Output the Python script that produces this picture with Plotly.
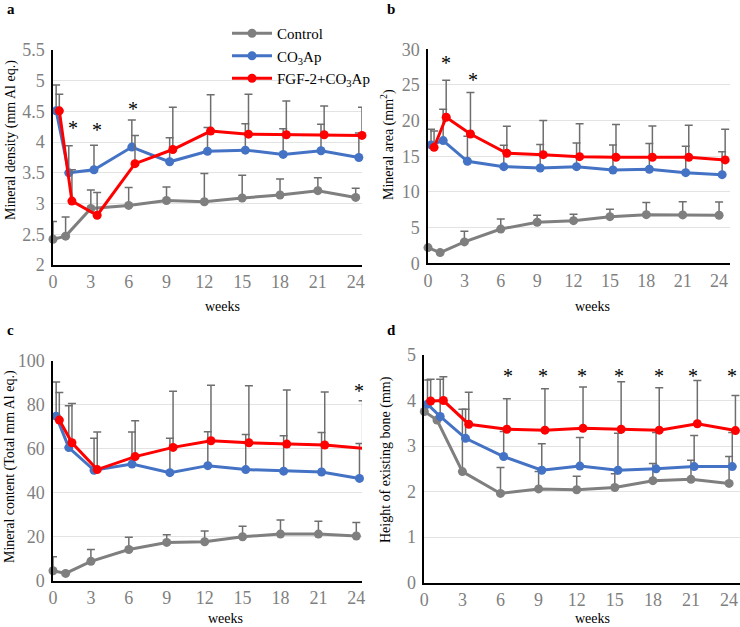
import plotly.graph_objects as go

# ---------------- data ----------------
weeks = [0, 1, 3, 6, 9, 12, 15, 18, 21, 24]
series_names = ["Control", "CO<sub>3</sub>Ap", "FGF-2+CO<sub>3</sub>Ap"]

# (a) Mineral density (mm Al eq.)
a_control = [2.42, 2.47, 2.92, 2.97, 3.05, 3.03, 3.09, 3.14, 3.21, 3.10]
a_control_sd = [0.29, 0.31, 0.30, 0.29, 0.22, 0.46, 0.37, 0.26, 0.21, 0.15]
a_co3ap = [4.51, 3.50, 3.55, 3.92, 3.68, 3.85, 3.87, 3.80, 3.86, 3.75]
a_co3ap_sd = [0.42, 0.44, 0.40, 0.44, 0.39, 0.39, 0.43, 0.42, 0.43, 0.40]
a_fgf = [4.51, 3.04, 2.81, 3.65, 3.88, 4.18, 4.13, 4.12, 4.12, 4.11]
a_fgf_sd = [0.27, 0.51, 0.37, 0.46, 0.69, 0.59, 0.65, 0.55, 0.47, 0.46]
a_star_x = [1.61, 3.51, 6.31]
a_star_y = [4.30, 4.27, 4.60]
a_yticks = [2, 2.5, 3, 3.5, 4, 4.5, 5, 5.5]
a_yticklabels = ["2", "2.5", "3", "3.5", "4", "4.5", "5", "5.5"]

# (b) Mineral area (mm2)
b_control = [2.2, 1.5, 3.0, 4.8, 5.75, 5.98, 6.54, 6.82, 6.78, 6.73]
b_control_sd = [0.0, 0.0, 1.5, 1.4, 1.0, 0.9, 1.05, 1.7, 1.85, 1.85]
b_co3ap = [16.6, 17.2, 14.3, 13.55, 13.36, 13.55, 13.08, 13.18, 12.71, 12.43]
b_co3ap_sd = [2.2, 4.4, 3.5, 3.0, 3.3, 3.3, 3.5, 3.6, 3.7, 3.2]
b_fgf = [16.26, 20.47, 18.13, 15.42, 15.23, 14.95, 14.86, 14.86, 14.86, 14.49]
b_fgf_sd = [2.3, 5.2, 5.8, 3.8, 4.8, 4.6, 4.6, 4.4, 4.5, 4.3]
b_star_x = [1.48, 3.68]
b_star_y = [28.6, 26.3]
b_yticks = [0, 5, 10, 15, 20, 25, 30]
b_yticklabels = ["0", "5", "10", "15", "20", "25", "30"]

# (c) Mineral content (Total mm Al eq.)
c_control = [4.5, 3.3, 8.8, 14.2, 17.4, 17.7, 20.0, 21.2, 21.2, 20.3]
c_control_sd = [6.4, 0.0, 5.4, 5.6, 3.5, 4.9, 4.8, 6.4, 5.8, 6.1]
c_co3ap = [74.8, 60.5, 50.2, 53.0, 49.1, 52.3, 50.5, 49.8, 49.4, 46.5]
c_co3ap_sd = [15.5, 19.0, 14.6, 14.6, 15.6, 15.4, 15.9, 16.1, 18.0, 15.9]
c_fgf = [73.0, 62.7, 50.5, 56.4, 60.6, 63.6, 62.7, 62.1, 61.7, 60.2]
c_fgf_sd = [12.6, 17.8, 17.1, 16.3, 25.5, 25.2, 25.9, 24.6, 24.1, 21.6]
c_star_x = [24.18]
c_star_y = [88.2]
c_yticks = [0, 20, 40, 60, 80, 100]
c_yticklabels = ["0", "20", "40", "60", "80", "100"]

# (d) Height of existing bone (mm)
d_control = [3.76, 3.57, 2.44, 1.96, 2.06, 2.04, 2.09, 2.24, 2.27, 2.18]
d_control_sd = [0.0, 0.0, 1.37, 0.57, 0.38, 0.30, 0.30, 0.38, 0.42, 0.59]
d_co3ap = [3.92, 3.65, 3.17, 2.77, 2.47, 2.56, 2.47, 2.50, 2.55, 2.55]
d_co3ap_sd = [0.53, 0.82, 0.64, 0.55, 0.58, 0.63, 0.81, 0.80, 0.68, 0.75]
d_fgf = [3.99, 4.00, 3.48, 3.37, 3.35, 3.39, 3.37, 3.35, 3.49, 3.34]
d_fgf_sd = [0.48, 0.52, 0.70, 0.67, 0.91, 0.91, 1.04, 0.93, 0.95, 0.77]
d_star_x = [6.56, 9.37, 12.39, 15.33, 18.45, 21.18, 24.2]
d_star_y = [4.63, 4.63, 4.63, 4.63, 4.63, 4.63, 4.63]
d_yticks = [0, 1, 2, 3, 4, 5]
d_yticklabels = ["0", "1", "2", "3", "4", "5"]

xticks = [0, 3, 6, 9, 12, 15, 18, 21, 24]
xticklabels = ["0", "3", "6", "9", "12", "15", "18", "21", "24"]

# ---------------- style ----------------
COLORS = ["#7f7f7f", "#4472c4", "#ff0000"]
DODGE = [0.0, 0.25, 0.5]
ERR_COLOR = "#6e6e6e"
SERIF = "Liberation Serif"
W, H = 740, 627

panels = [
    dict(name="a", vals=[a_control, a_co3ap, a_fgf], sds=[a_control_sd, a_co3ap_sd, a_fgf_sd],
         sx=a_star_x, sy=a_star_y, yt=a_yticks, ytl=a_yticklabels, yr=[2, 5.5],
         px=(53, 362), py=(50, 265), xr=[0, 24.5],
         title="Mineral density (mm Al eq.)", title_x=11, title_y=140,
         lab=(5, 9), weeks=(222, 306)),
    dict(name="b", vals=[b_control, b_co3ap, b_fgf], sds=[b_control_sd, b_co3ap_sd, b_fgf_sd],
         sx=b_star_x, sy=b_star_y, yt=b_yticks, ytl=b_yticklabels, yr=[0, 30],
         px=(428, 730), py=(49.3, 263.3), xr=[0, 24.9],
         title="Mineral area (mm<sup>2</sup>)", title_x=387, title_y=145,
         lab=(385, 9), weeks=(592, 306)),
    dict(name="c", vals=[c_control, c_co3ap, c_fgf], sds=[c_control_sd, c_co3ap_sd, c_fgf_sd],
         sx=c_star_x, sy=c_star_y, yt=c_yticks, ytl=c_yticklabels, yr=[0, 100],
         px=(53, 362), py=(360.7, 580.7), xr=[0, 24.45],
         title="Mineral content (Total mm Al eq.)", title_x=10, title_y=467,
         lab=(5, 330), weeks=(225, 618)),
    dict(name="d", vals=[d_control, d_co3ap, d_fgf], sds=[d_control_sd, d_co3ap_sd, d_fgf_sd],
         sx=d_star_x, sy=d_star_y, yt=d_yticks, ytl=d_yticklabels, yr=[0, 5],
         px=(424.3, 740), py=(355, 582.7), xr=[0, 24.86],
         title="Height of existing bone (mm)", title_x=386, title_y=460,
         lab=(385, 330), weeks=(592, 618)),
]

fig = go.Figure()
annotations = []
for i, p in enumerate(panels):
    ax = "" if i == 0 else str(i + 1)
    xa, ya = "x" + ax, "y" + ax
    for s in range(3):
        fig.add_trace(go.Scatter(
            x=[w + DODGE[s] for w in weeks], y=p["vals"][s],
            xaxis=xa, yaxis=ya, mode="lines+markers",
            name=series_names[s], legendgroup=series_names[s], showlegend=(i == 0),
            line=dict(color=COLORS[s], width=3),
            marker=dict(color=COLORS[s], size=9),
            error_y=dict(type="data", symmetric=False, array=p["sds"][s],
                         arrayminus=[0] * len(weeks), color=ERR_COLOR, thickness=1.5, width=4),
            cliponaxis=False,
        ))
    for sx, sy in zip(p["sx"], p["sy"]):
        annotations.append(dict(x=sx, y=sy, xref=xa, yref=ya, text="*", showarrow=False,
                                font=dict(family=SERIF, size=20, color="black"), yshift=-4))
    layout_x = dict(domain=[p["px"][0] / W, p["px"][1] / W], range=p["xr"],
                    tickvals=xticks, ticktext=xticklabels, showgrid=False, zeroline=False,
                    showline=True, linecolor="black", linewidth=1.5,
                    ticks="", tickfont=dict(family=SERIF, size=18, color="#7f7f7f"),
                    anchor=ya, automargin=False)
    layout_y = dict(domain=[1 - p["py"][1] / H, 1 - p["py"][0] / H], range=p["yr"],
                    tickvals=p["yt"], ticktext=p["ytl"], showgrid=True, gridcolor="#e3e3e3",
                    gridwidth=1, zeroline=False, showline=True, linecolor="black", linewidth=1.5,
                    ticks="outside", ticklen=3, tickcolor="rgba(0,0,0,0)",
                    tickfont=dict(family=SERIF, size=18, color="#7f7f7f"),
                    anchor=xa, automargin=False)
    fig.update_layout({"xaxis" + ax: layout_x, "yaxis" + ax: layout_y})
    annotations.append(dict(x=p["title_x"] / W, y=1 - p["title_y"] / H, xref="paper", yref="paper",
                            xanchor="center", yanchor="middle",
                            text=p["title"], textangle=-90, showarrow=False,
                            font=dict(family=SERIF, size=14, color="black")))
    annotations.append(dict(x=p["lab"][0] / W, y=1 - p["lab"][1] / H, xref="paper", yref="paper",
                            text="<b>%s</b>" % p["name"], showarrow=False, xanchor="left",
                            yanchor="middle",
                            font=dict(family=SERIF, size=15, color="black")))
    annotations.append(dict(x=p["weeks"][0] / W, y=1 - p["weeks"][1] / H, xref="paper", yref="paper",
                            xanchor="center", yanchor="middle",
                            text="weeks", showarrow=False,
                            font=dict(family=SERIF, size=14, color="black")))

fig.update_layout(
    width=W, height=H, margin=dict(l=0, r=0, t=0, b=0, pad=0, autoexpand=False),
    paper_bgcolor="white", plot_bgcolor="white",
    font=dict(family=SERIF),
    annotations=annotations,
    legend=dict(x=227 / W, y=1 - 17 / H, xanchor="left", yanchor="top",
                bgcolor="rgba(0,0,0,0)", font=dict(family=SERIF, size=15, color="black"),
                tracegroupgap=0, itemwidth=40),
)

fig.write_html("out.html", config={"displayModeBar": False},
               post_script="document.body.style.margin='0';document.body.style.overflow='hidden';")
